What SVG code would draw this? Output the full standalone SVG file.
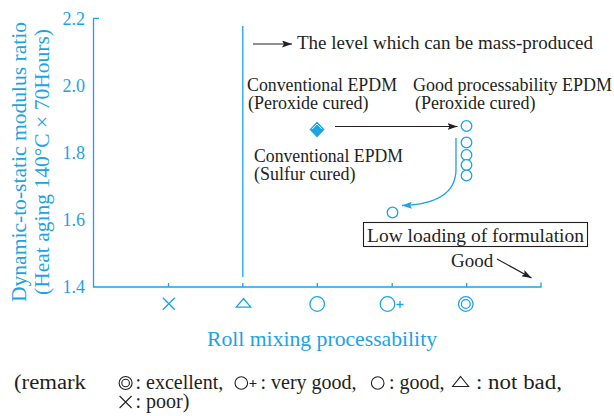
<svg xmlns="http://www.w3.org/2000/svg" width="614" height="416" viewBox="0 0 614 416">
<defs>
<style>
.ax{stroke:#1ba3e6;stroke-width:1.3;fill:none}
.sym{stroke:#1ba3e6;stroke-width:1.3;fill:none}
.pt{stroke:#1ba3e6;stroke-width:1.3;fill:#fff}
.bsym{stroke:#231f20;stroke-width:1.1;fill:none}
.ct{font-family:"Liberation Serif","Times New Roman",serif;fill:#1ba3e6}
.bt{font-family:"Liberation Serif","Times New Roman",serif;fill:#231f20}
.blk{stroke:#231f20;stroke-width:1.2;fill:none}
.cyl{stroke:#1ba3e6;stroke-width:1.3;fill:none}
</style>
<marker id="ahb" viewBox="0 0 10 7" refX="10" refY="3.5" markerWidth="10" markerHeight="7" markerUnits="userSpaceOnUse" orient="auto">
<path d="M0,0 L10,3.5 L0,7 L2,3.5 z" fill="#231f20"/>
</marker>
<marker id="ahc" viewBox="0 0 10 7" refX="10" refY="3.5" markerWidth="10" markerHeight="7" markerUnits="userSpaceOnUse" orient="auto">
<path d="M0,0 L10,3.5 L0,7 L2,3.5 z" fill="#1ba3e6"/>
</marker>
</defs>
<rect width="614" height="416" fill="#fff"/>

<g id="axes">
<path class="ax" d="M99,18.3 H93.5 V287 H541 V282.5"/>
<path class="ax" d="M168.5,287 V283 M242.8,287 V283 M317.3,287 V283 M392.2,287 V283 M466.7,287 V283"/>
<g class="ct" font-size="18" text-anchor="end">
<text x="85" y="25">2.2</text>
<text x="85" y="92">2.0</text>
<text x="85" y="159">1.8</text>
<text x="85" y="226">1.6</text>
<text x="85" y="293">1.4</text>
</g>
<text class="ct" font-size="21" text-anchor="middle" transform="translate(25.5,162) rotate(-90)" textLength="280" lengthAdjust="spacingAndGlyphs">Dynamic-to-static modulus ratio</text>
<text class="ct" font-size="21" text-anchor="middle" transform="translate(49,162) rotate(-90)" textLength="266" lengthAdjust="spacingAndGlyphs">(Heat aging 140°C × 70Hours)</text>
<text class="ct" font-size="21" x="207" y="346" textLength="230" lengthAdjust="spacingAndGlyphs">Roll mixing processability</text>
</g>

<g id="x-symbols">
<path class="sym" d="M162.8,297.8 L174.8,309.8 M174.8,297.8 L162.8,309.8"/>
<path class="sym" d="M243.5,298.5 L250.7,307.2 L236.3,307.2 Z"/>
<circle class="sym" cx="317.2" cy="304" r="7.3"/>
<circle class="sym" cx="387.5" cy="304" r="7.3"/>
<path class="sym" d="M396.5,304.5 H403.5 M400,301 V308"/>
<circle class="sym" cx="465.8" cy="304" r="7.3"/>
<circle class="sym" cx="465.8" cy="304" r="4.4"/>
</g>

<g id="mass-level">
<line class="cyl" x1="242.8" y1="26" x2="242.8" y2="277"/>
</g>

<g id="conv-peroxide">
<path d="M317,121.5 L324.5,129.5 L317,137.5 L309.5,129.5 Z" fill="#1ba3e6"/>
<path d="M312,129.2 L317,124 L322,129.2" stroke="#fff" stroke-width="0.9" fill="none"/>
<text class="bt" font-size="18" x="247" y="91" textLength="150" lengthAdjust="spacingAndGlyphs">Conventional EPDM</text>
<text class="bt" font-size="18" x="248" y="109">(Peroxide cured)</text>
</g>

<g id="conv-sulfur">
<text class="bt" font-size="18" x="254" y="162" textLength="149" lengthAdjust="spacingAndGlyphs">Conventional EPDM</text>
<text class="bt" font-size="18" x="254" y="180">(Sulfur cured)</text>
</g>

<g id="good-epdm">
<circle class="pt" cx="466.5" cy="126" r="5.3"/>
<circle class="pt" cx="466.5" cy="142.5" r="5.3"/>
<circle class="pt" cx="466.5" cy="155" r="5.3"/>
<circle class="pt" cx="466.5" cy="165" r="5.3"/>
<circle class="pt" cx="466.5" cy="175.5" r="5.3"/>
<text class="bt" font-size="18" x="413" y="91" textLength="199" lengthAdjust="spacingAndGlyphs">Good processability EPDM</text>
<text class="bt" font-size="18" x="415" y="109">(Peroxide cured)</text>
</g>

<g id="low-loading">
<circle class="pt" cx="392.5" cy="212.5" r="5.3"/>
<rect x="363.5" y="222.5" width="224" height="24" fill="#fff" stroke="#231f20" stroke-width="1.1"/>
<text class="bt" font-size="19" x="367" y="241.5" textLength="217" lengthAdjust="spacingAndGlyphs">Low loading of formulation</text>
</g>

<g id="level-label">
<text class="bt" font-size="19" x="297" y="49" textLength="296" lengthAdjust="spacingAndGlyphs">The level which can be mass-produced</text>
</g>

<g id="good-label">
<text class="bt" font-size="19" x="451" y="266.5">Good</text>
</g>

<g id="connectors">
<line class="blk" x1="253" y1="44" x2="292" y2="44" marker-end="url(#ahb)"/>
<line class="blk" x1="335" y1="126.5" x2="457.5" y2="126.5" marker-end="url(#ahb)"/>
<path class="cyl" d="M456,138 L456,170 C455.5,193 437,204.5 402,205.5" marker-end="url(#ahc)"/>
<line class="blk" x1="497" y1="259" x2="531.5" y2="278" marker-end="url(#ahb)"/>
</g>

<g id="remark">
<text class="bt" font-size="20" x="14" y="389" textLength="72" lengthAdjust="spacingAndGlyphs">(remark</text>
<circle class="bsym" cx="125.6" cy="383" r="6.5"/>
<circle class="bsym" cx="125.6" cy="383" r="3.8"/>
<text class="bt" font-size="20" x="135.5" y="389">: excellent,</text>
<circle class="bsym" cx="241.3" cy="383" r="6.3"/>
<path class="bsym" d="M249.5,383.5 H256.5 M253,380 V387"/>
<text class="bt" font-size="20" x="260.5" y="389">: very good,</text>
<circle class="bsym" cx="377.7" cy="383" r="6.3"/>
<text class="bt" font-size="20" x="389" y="389">: good,</text>
<path class="bsym" d="M460.6,376.5 L468.6,386.5 L452.6,386.5 Z"/>
<text class="bt" font-size="20" x="476" y="389" textLength="86" lengthAdjust="spacingAndGlyphs">: not bad,</text>
<path class="bsym" d="M119.6,396 L131.6,408 M131.6,396 L119.6,408"/>
<text class="bt" font-size="20" x="135.5" y="408">: poor)</text>
</g>
</svg>
